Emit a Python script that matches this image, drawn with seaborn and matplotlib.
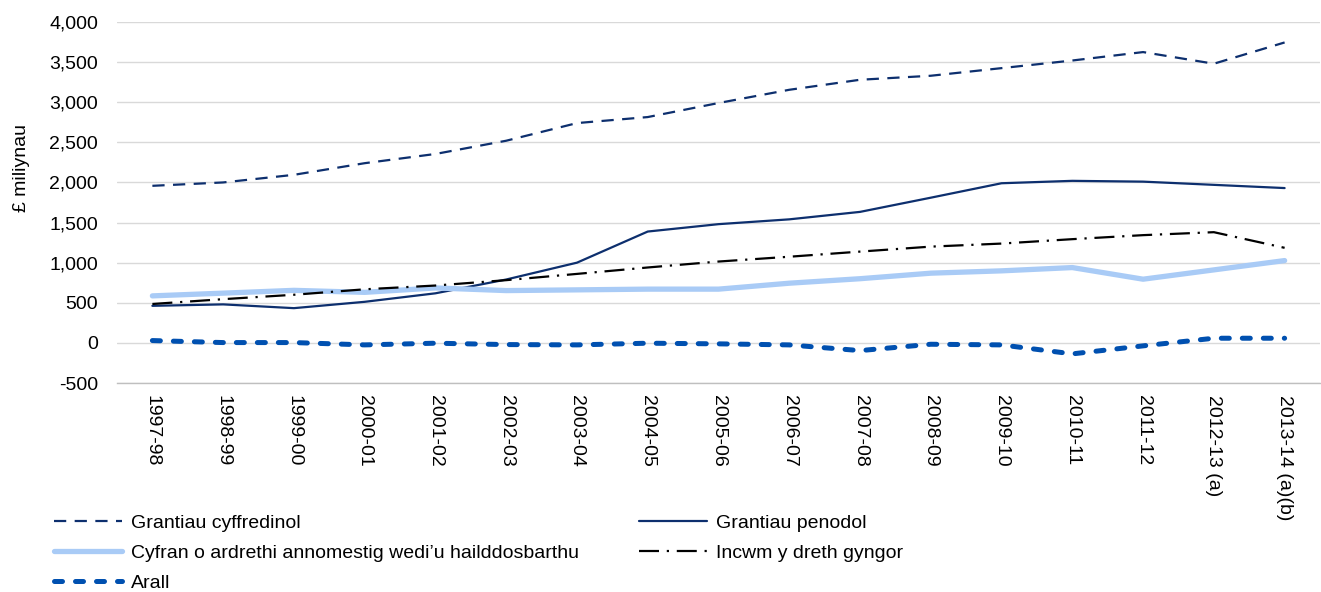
"""
Welsh local government income by source, 1997-98 to 2013-14.
"""

import matplotlib

matplotlib.use("Agg")
import matplotlib.pyplot as plt
import pandas as pd
import seaborn as sns
from matplotlib.ticker import FuncFormatter, MultipleLocator

years = [
    "1997-98", "1998-99", "1999-00", "2000-01", "2001-02", "2002-03",
    "2003-04", "2004-05", "2005-06", "2006-07", "2007-08", "2008-09",
    "2009-10", "2010-11", "2011-12", "2012-13 (a)", "2013-14 (a)(b)",
]
general_grants = [1958, 2000, 2095, 2240, 2355, 2520, 2740, 2815, 2990,
                  3155, 3280, 3330, 3425, 3520, 3625, 3480, 3745]
specific_grants = [462, 480, 433, 512, 618, 790, 1000, 1388, 1480,
                   1540, 1633, 1810, 1990, 2020, 2010, 1970, 1930]
ndr_share = [586, 620, 655, 630, 685, 652, 661, 670, 670,
             744, 800, 869, 898, 939, 794, 910, 1026]
council_tax = [485, 545, 600, 668, 715, 782, 860, 940, 1014,
               1074, 1138, 1200, 1238, 1293, 1343, 1380, 1185]
other = [29, 4, 4, -25, -4, -21, -25, -4, -12, -25, -96, -17, -25,
         -137, -37, 58, 58]

labels = [
    "Grantiau cyffredinol",
    "Grantiau penodol",
    "Cyfran o ardrethi annomestig wedi’u hailddosbarthu",
    "Incwm y dreth gyngor",
    "Arall",
]

sns.set_theme(style="whitegrid")
plt.rcParams["font.family"] = ["Liberation Sans", "DejaVu Sans"]
plt.rcParams["axes.unicode_minus"] = False
plt.rcParams["text.color"] = "black"

fig = plt.figure(figsize=(13.21, 5.92), dpi=100)
ax = fig.add_axes([117 / 1321, 1 - 383 / 592, 1203 / 1321, 361 / 592])

series = [general_grants, specific_grants, ndr_share, council_tax, other]
styles = [
    dict(color="#0d2f6e", lw=1.6, linestyle=(0, (5.5, 3.8))),
    dict(color="#0d2f6e", lw=1.6, linestyle="-"),
    dict(color="#a9cbf6", lw=3.8, linestyle="-"),
    dict(color="black", lw=1.6, linestyle=(0, (9, 3.5, 1, 3.5))),
    dict(color="#0050b0", lw=3.6, linestyle=(0, (1.6, 2.6)),
         dash_capstyle="round"),
]

handles = {}
for name, vals, st in zip(labels, series, styles):
    df = pd.DataFrame({"year": years, "value": vals})
    sns.lineplot(data=df, x="year", y="value", ax=ax, label=name,
                 sort=False, **st)
    handles[name] = ax.lines[-1]

ax.set_xlim(-0.5, len(years) - 0.5)
ax.set_ylim(-500, 4000)
ax.yaxis.set_major_locator(MultipleLocator(500))
ax.yaxis.set_major_formatter(FuncFormatter(lambda v, p: f"{v:,.0f}"))

ax.grid(axis="y", color="#d9d9d9", lw=1.0)
ax.grid(axis="x", visible=False)
for side in ["left", "right", "top"]:
    ax.spines[side].set_visible(False)
ax.spines["bottom"].set_color("#bfbfbf")
ax.spines["bottom"].set_linewidth(1.0)

ax.tick_params(axis="y", length=0, pad=13.5, labelsize=14, labelcolor="black")
ax.tick_params(axis="x", length=0, pad=8.5, labelsize=14, labelcolor="black")
plt.setp(ax.get_xticklabels(), rotation=-90, ha="center", va="top",
         rotation_mode="default")

ax.set_xlabel("")
ax.set_ylabel("£ miliynau", fontsize=14, color="black")
ax.yaxis.set_label_coords(-0.072, 0.596)

# legend: column-major fill gives the reference row order
order = [labels[0], labels[2], labels[4], labels[1], labels[3]]
leg = ax.legend(
    [handles[n] for n in order],
    order,
    ncol=2,
    loc="upper left",
    bbox_to_anchor=(54 / 1321, 1 - 514 / 592),
    bbox_transform=fig.transFigure,
    frameon=False,
    fontsize=14,
    handlelength=3.5,
    handletextpad=0.45,
    columnspacing=3.1,
    labelspacing=0.64,
    borderpad=0,
    borderaxespad=0,
)
for t in leg.get_texts():
    t.set_color("black")

fig.savefig("out.png", dpi=100)
